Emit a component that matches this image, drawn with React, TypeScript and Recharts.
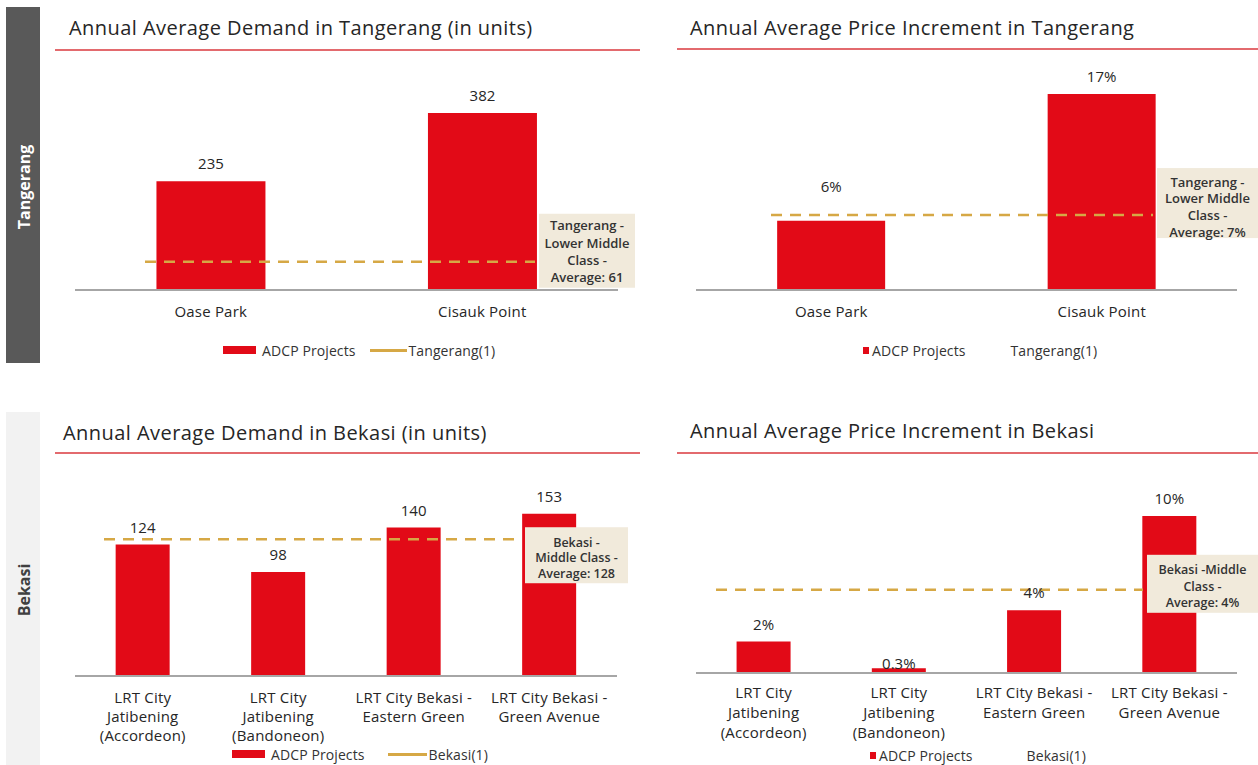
import React from "react";
import { ComposedChart, Bar, XAxis, YAxis, ReferenceLine, LabelList, Legend } from "recharts";

// ---------- data ----------
const tangerangProjects = ["Oase Park", "Cisauk Point"];
const tangerangDemand = [235, 382];
const tangerangDemandAvgLine = 61;
const tangerangDemandNote = ["Tangerang -", "Lower Middle", "Class -", "Average: 61"];
const tangerangPrice = [6, 17];
const tangerangPriceAvgLine = 6.5;
const tangerangPriceNote = ["Tangerang -", "Lower Middle", "Class -", "Average: 7%"];

const bekasiProjects = [
  "LRT City\nJatibening\n(Accordeon)",
  "LRT City\nJatibening\n(Bandoneon)",
  "LRT City Bekasi -\nEastern Green",
  "LRT City Bekasi -\nGreen Avenue",
];
const bekasiDemand = [124, 98, 140, 153];
const bekasiDemandAvgLine = 129;
const bekasiDemandNote = ["Bekasi -", "Middle Class -", "Average: 128"];
const bekasiPrice = [2, 0.3, 4, 10];
const bekasiPriceAvgLine = 5.3;
const bekasiPriceNote = ["Bekasi -Middle", "Class -", "Average: 4%"];

const chartTitles = [
  "Annual Average Demand in Tangerang (in units)",
  "Annual Average Price Increment in Tangerang",
  "Annual Average Demand in Bekasi (in units)",
  "Annual Average Price Increment in Bekasi",
];
const sideLabels = ["Tangerang", "Bekasi"];
const seriesName = "ADCP Projects";
const benchmarkNames = ["Tangerang(1)", "Bekasi(1)"];

// ---------- styles ----------
const FONT = "'Open Sans', 'Noto Sans', sans-serif";
const RED = "#e20a17";
const GOLD = "#d6a845";
const BOX = "#f1eadb";
const TEXT = "#262626";
const TITLE_LINE = "#e36a6e";

const rows = (cats: string[], vals: number[]) => cats.map((c, i) => ({ name: c, value: vals[i] }));

const Tick = (props: any) => {
  const { x, y, payload, first, lh } = props;
  const lines = String(payload.value).split("\n");
  return (
    <text x={x} y={y} textAnchor="middle" fontFamily={FONT} fontSize={15} fill={TEXT} letterSpacing={0.2}>
      {lines.map((l: string, i: number) => (
        <tspan key={i} x={x} y={y + first + i * lh}>
          {l}
        </tspan>
      ))}
    </text>
  );
};

type Cfg = {
  left: number; top: number; width: number; height: number;
  margin: { top: number; right: number; left: number; bottom: number };
  xh: number; domain: [number, number];
  data: { name: string; value: number }[];
  fmt: (v: number) => string;
  avg: number; note: string[];
  box: { l: number; r: number; t: number; h: number; first: number; lh: number; fs: number };
  lineStart: number;
  tickFirst: number; tickLh: number;
  labelOffsets: Record<number, number>;
  legend: { pad: number; square: boolean; lineColor: string; gap: number; label: string; lineW: number };
};

const Panel = ({ c }: { c: Cfg }) => {
  const refShape = (p: any) => {
    const { x1, x2, y1 } = p;
    const bx = x2 + c.box.l;
    const bw = c.box.r - c.box.l;
    const by = y1 + c.box.t;
    return (
      <g>
        <line x1={x1 + c.lineStart} x2={bx - 4} y1={y1} y2={y1} stroke={GOLD} strokeWidth={2.5} strokeDasharray="11 8" />
        <rect x={bx} y={by} width={bw} height={c.box.h} fill={BOX} />
        {c.note.map((t, i) => (
          <text key={i} x={bx + bw / 2} y={by + c.box.first + i * c.box.lh} textAnchor="middle"
            fontFamily={FONT} fontSize={c.box.fs} fontWeight={600} fill="#333">
            {t}
          </text>
        ))}
      </g>
    );
  };
  const label = (p: any) => {
    const { x, y, width, value, index } = p;
    const off = c.labelOffsets[index] ?? 17;
    return (
      <text x={x + width / 2} y={y - off + 5} textAnchor="middle" fontFamily={FONT} fontSize={15} fill={TEXT}>
        {c.fmt(value)}
      </text>
    );
  };
  const legendContent = () => (
    <div style={{ display: "flex", alignItems: "center", paddingLeft: c.legend.pad, height: 20,
      fontFamily: FONT, fontSize: 14, letterSpacing: 0.1, color: "#333", whiteSpace: "nowrap" }}>
      <span style={{ display: "inline-block", width: c.legend.square ? 6 : 33, height: c.legend.square ? 7 : 8,
        background: RED, marginRight: c.legend.square ? 3 : 6 }} />
      <span>{seriesName}</span>
      <span style={{ display: "inline-block", width: c.legend.lineW, height: 3, background: c.legend.lineColor,
        marginLeft: c.legend.gap, marginRight: 2 }} />
      <span>{c.legend.label}</span>
    </div>
  );
  return (
    <div style={{ position: "absolute", left: c.left, top: c.top }}>
      <ComposedChart width={c.width} height={c.height} data={c.data} margin={c.margin} barCategoryGap="30%">
        <XAxis dataKey="name" interval={0} height={c.xh} tickLine={false} tickSize={0} tickMargin={0}
          axisLine={{ stroke: "#a6a6a6", strokeWidth: 2 }}
          tick={(p: any) => <Tick {...p} first={c.tickFirst} lh={c.tickLh} />} />
        <YAxis hide domain={c.domain} />
        <Bar dataKey="value" name={seriesName} fill={RED} isAnimationActive={false}>
          <LabelList dataKey="value" content={label} />
        </Bar>
        <ReferenceLine y={c.avg} shape={refShape} />
        <Legend verticalAlign="bottom" height={20} content={legendContent} />
      </ComposedChart>
    </div>
  );
};

const panels: Cfg[] = [
  {
    left: 0, top: 60, width: 640, height: 310,
    margin: { top: 35, right: 22, left: 75, bottom: 10 }, xh: 50, domain: [0, 421],
    data: rows(tangerangProjects, tangerangDemand), fmt: (v) => String(v),
    avg: tangerangDemandAvgLine, note: tangerangDemandNote,
    box: { l: -79, r: 17, t: -48, h: 74, first: 16.5, lh: 17.3, fs: 13 },
    lineStart: 70, tickFirst: 27, tickLh: 19, labelOffsets: {},
    legend: { pad: 148, square: false, lineColor: GOLD, gap: 14, label: benchmarkNames[0], lineW: 37 },
  },
  {
    left: 630, top: 60, width: 628, height: 310,
    margin: { top: 30, right: 21, left: 66, bottom: 10 }, xh: 50, domain: [0, 17.35],
    data: rows(tangerangProjects, tangerangPrice), fmt: (v) => `${v}%`,
    avg: tangerangPriceAvgLine, note: tangerangPriceNote,
    box: { l: -80, r: 21, t: -47, h: 70, first: 18.5, lh: 16.7, fs: 13 },
    lineStart: 75, tickFirst: 27, tickLh: 19, labelOffsets: { 0: 34 },
    legend: { pad: 167, square: true, lineColor: "#ffffff", gap: 8, label: benchmarkNames[0], lineW: 35 },
  },
  {
    left: 0, top: 460, width: 640, height: 305,
    margin: { top: 40, right: 23, left: 75, bottom: 1 }, xh: 68, domain: [0, 166],
    data: rows(bekasiProjects, bekasiDemand), fmt: (v) => String(v),
    avg: bekasiDemandAvgLine, note: bekasiDemandNote,
    box: { l: -92, r: 11, t: -12, h: 56, first: 19.5, lh: 15.5, fs: 12.5 },
    lineStart: 29, tickFirst: 27, tickLh: 19, labelOffsets: {},
    legend: { pad: 157, square: false, lineColor: GOLD, gap: 23, label: benchmarkNames[1], lineW: 39 },
  },
  {
    left: 630, top: 460, width: 628, height: 305,
    margin: { top: 40, right: 21, left: 66, bottom: 0 }, xh: 72, domain: [0, 11.02],
    data: rows(bekasiProjects, bekasiPrice), fmt: (v) => `${v}%`,
    avg: bekasiPriceAvgLine, note: bekasiPriceNote,
    box: { l: -90, r: 21, t: -35, h: 58, first: 19.5, lh: 16.5, fs: 12.5 },
    lineStart: 20, tickFirst: 25, tickLh: 20, labelOffsets: { 1: 4 },
    legend: { pad: 174, square: true, lineColor: "#ffffff", gap: 16, label: benchmarkNames[1], lineW: 36 },
  },
];

const titlePos = [
  { x: 69, y: 35, lx1: 55, lx2: 640, ly: 50 },
  { x: 690, y: 35, lx1: 677, lx2: 1258, ly: 49 },
  { x: 63, y: 440, lx1: 55, lx2: 640, ly: 453 },
  { x: 690, y: 438, lx1: 677, lx2: 1258, ly: 453 },
];

export default function App() {
  return (
    <div style={{ position: "absolute", left: 0, top: 0, width: 1258, height: 765, background: "#fff", overflow: "hidden" }}>
      <svg width={1258} height={765} style={{ position: "absolute", left: 0, top: 0 }}>
        <rect x={6} y={7} width={34} height={356} fill="#595959" />
        <rect x={6} y={412} width={34} height={353} fill="#f2f2f2" />
        <text transform="translate(24,187) rotate(-90)" textAnchor="middle" dominantBaseline="central"
          fontFamily={FONT} fontSize={16} fontWeight={700} fill="#ffffff">{sideLabels[0]}</text>
        <text transform="translate(24,590) rotate(-90)" textAnchor="middle" dominantBaseline="central"
          fontFamily={FONT} fontSize={16} fontWeight={700} fill="#404040">{sideLabels[1]}</text>
        {titlePos.map((t, i) => (
          <g key={i}>
            <text x={t.x} y={t.y} fontFamily={FONT} fontSize={20} letterSpacing={0.45} fill={TEXT}>{chartTitles[i]}</text>
            <line x1={t.lx1} x2={t.lx2} y1={t.ly} y2={t.ly} stroke={TITLE_LINE} strokeWidth={2} />
          </g>
        ))}
      </svg>
      {panels.map((c, i) => (
        <Panel key={i} c={c} />
      ))}
    </div>
  );
}
